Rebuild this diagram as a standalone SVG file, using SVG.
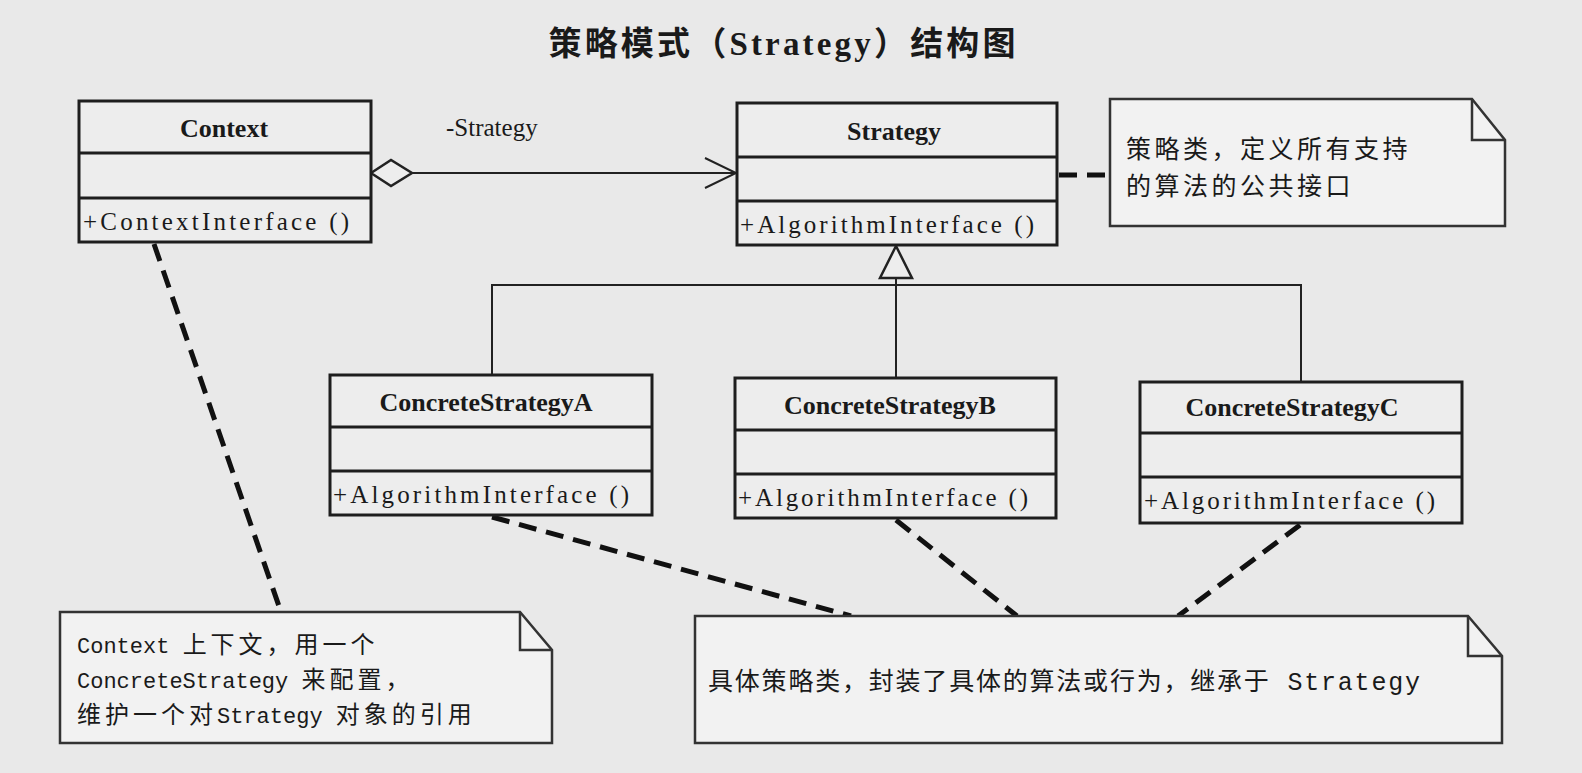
<svg xmlns="http://www.w3.org/2000/svg" width="1582" height="773" viewBox="0 0 1582 773">
<defs>
<style>
.bg{fill:#e9e9e9}
.cls{fill:#ededed;stroke:#1e1e1e;stroke-width:3}
.div{stroke:#1e1e1e;stroke-width:3}
.note{fill:#f2f2f2;stroke:#333;stroke-width:2.5}
.fold{fill:none;stroke:#333;stroke-width:2.5}
.ln{fill:none;stroke:#222;stroke-width:2}
.dash{fill:none;stroke:#111;stroke-width:5;stroke-dasharray:18 10}
.name{font-family:"Liberation Serif","Noto Sans CJK SC",serif;font-size:26px;font-weight:bold;fill:#1a1a1a;text-anchor:middle}
.mem{font-family:"Liberation Serif","Noto Sans CJK SC",serif;font-size:25px;fill:#1a1a1a}
.lbl{font-family:"Liberation Serif","Noto Sans CJK SC",serif;font-size:25px;fill:#1a1a1a}
.nt{font-family:"Liberation Mono","Noto Sans CJK SC",monospace;font-size:22px;fill:#1a1a1a}
.cj{font-family:"Noto Sans CJK SC",sans-serif;font-size:24px;letter-spacing:4px}
.nt2{font-family:"Noto Sans CJK SC",sans-serif;font-size:25px;letter-spacing:3.5px;fill:#1a1a1a}
.nt3{font-family:"Liberation Mono","Noto Sans CJK SC",monospace;font-size:25px;fill:#1a1a1a}
.title{font-family:"Liberation Serif","Noto Sans CJK SC",serif;font-size:33px;font-weight:bold;fill:#1a1a1a;text-anchor:middle}
</style>
</defs>
<rect class="bg" x="0" y="0" width="1582" height="773"/>
<text class="title" x="782" y="55" textLength="467" lengthAdjust="spacing">策略模式（Strategy）结构图</text>

<g id="connectors">
<line class="ln" x1="412" y1="173" x2="736" y2="173"/>
<polygon points="371,173 391,160 412,173 391,186" fill="#ededed" stroke="#222" stroke-width="2.5"/>
<polyline class="ln" points="705,158 736,173 705,188" stroke-width="2.5"/>
<text class="lbl" x="446" y="136">-Strategy</text>
<polygon points="896,246 880,278 912,278" fill="#ededed" stroke="#222" stroke-width="2.5"/>
<line class="ln" x1="896" y1="278" x2="896" y2="378"/>
<polyline class="ln" points="492,375 492,285 1301,285 1301,382"/>
<line class="dash" x1="1059" y1="175" x2="1110" y2="175"/>
<line class="dash" x1="154" y1="244" x2="281" y2="612"/>
<line class="dash" x1="492" y1="517" x2="851" y2="616"/>
<line class="dash" x1="896" y1="520" x2="1017" y2="616"/>
<line class="dash" x1="1300" y1="525" x2="1178" y2="616"/>
</g>

<g id="context">
<rect class="cls" x="79" y="101" width="292" height="141"/>
<line class="div" x1="79" y1="153" x2="371" y2="153"/>
<line class="div" x1="79" y1="198" x2="371" y2="198"/>
<text class="name" x="224" y="137">Context</text>
<text class="mem" x="83" y="230" textLength="266" lengthAdjust="spacing">+ContextInterface ()</text>
</g>

<g id="strategy">
<rect class="cls" x="737" y="103" width="320" height="142"/>
<line class="div" x1="737" y1="157" x2="1057" y2="157"/>
<line class="div" x1="737" y1="201" x2="1057" y2="201"/>
<text class="name" x="894" y="140">Strategy</text>
<text class="mem" x="740" y="233" textLength="294" lengthAdjust="spacing">+AlgorithmInterface ()</text>
</g>

<g id="concreteA">
<rect class="cls" x="330" y="375" width="322" height="140"/>
<line class="div" x1="330" y1="427" x2="652" y2="427"/>
<line class="div" x1="330" y1="471" x2="652" y2="471"/>
<text class="name" x="486" y="411">ConcreteStrategyA</text>
<text class="mem" x="333" y="503" textLength="296" lengthAdjust="spacing">+AlgorithmInterface ()</text>
</g>

<g id="concreteB">
<rect class="cls" x="735" y="378" width="321" height="140"/>
<line class="div" x1="735" y1="430" x2="1056" y2="430"/>
<line class="div" x1="735" y1="474" x2="1056" y2="474"/>
<text class="name" x="890" y="414">ConcreteStrategyB</text>
<text class="mem" x="738" y="506" textLength="290" lengthAdjust="spacing">+AlgorithmInterface ()</text>
</g>

<g id="concreteC">
<rect class="cls" x="1140" y="382" width="322" height="141"/>
<line class="div" x1="1140" y1="433" x2="1462" y2="433"/>
<line class="div" x1="1140" y1="477" x2="1462" y2="477"/>
<text class="name" x="1292" y="416">ConcreteStrategyC</text>
<text class="mem" x="1144" y="509" textLength="291" lengthAdjust="spacing">+AlgorithmInterface ()</text>
</g>

<g id="note-strategy">
<path class="note" d="M1110,99 H1472 L1505,140 V226 H1110 Z"/>
<polyline class="fold" points="1472,99 1472,140 1505,140"/>
<text class="nt2" x="1126" y="158">策略类，定义所有支持</text>
<text class="nt2" x="1126" y="195">的算法的公共接口</text>
</g>

<g id="note-context">
<path class="note" d="M60,612 H520 L552,650 V743 H60 Z"/>
<polyline class="fold" points="520,612 520,650 552,650"/>
<text class="nt" x="77" y="653">Context <tspan class="cj">上下文，用一个</tspan></text>
<text class="nt" x="77" y="688">ConcreteStrategy <tspan class="cj">来配置，</tspan></text>
<text class="nt" x="77" y="723"><tspan class="cj">维护一个对</tspan>Strategy <tspan class="cj">对象的引用</tspan></text>
</g>

<g id="note-concrete">
<path class="note" d="M695,616 H1468 L1502,656 V743 H695 Z"/>
<polyline class="fold" points="1468,616 1468,656 1502,656"/>
<text class="nt3" x="708" y="690" textLength="712" lengthAdjust="spacing">具体策略类，封装了具体的算法或行为，继承于 Strategy</text>
</g>
</svg>
